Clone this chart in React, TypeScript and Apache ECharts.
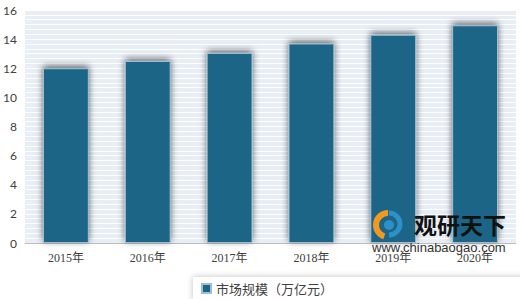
import React, { useEffect, useRef } from "react";
import * as echarts from "echarts";

const categories = ["2015年", "2016年", "2017年", "2018年", "2019年", "2020年"];
const marketSize = [12.0, 12.5, 13.05, 13.7, 14.3, 14.95];
const seriesName = "市场规模（万亿元）";
const yTicks = { min: 0, max: 16, interval: 2 };

export default function App() {
  const ref = useRef<HTMLDivElement>(null);
  useEffect(() => {
    if (!ref.current) return;
    const chart = echarts.init(ref.current, null, { renderer: "svg" });
    chart.setOption({
      animation: false,
      backgroundColor: "#ffffff",
      grid: {
        left: 25,
        right: 4,
        top: 10,
        bottom: 56,
        show: true,
        backgroundColor: "#e8eef5",
        borderWidth: 0,
      },
      legend: {
        data: [seriesName],
        left: 193,
        top: 277,
        padding: [5, 220, 6, 8],
        backgroundColor: "#ffffff",
        shadowColor: "rgba(0,0,0,0.25)",
        shadowBlur: 6,
        icon: "rect",
        itemWidth: 9,
        itemHeight: 9,
        itemGap: 6,
        textStyle: {
          color: "#404040",
          fontSize: 13,
          fontFamily: "'Noto Sans CJK SC', sans-serif",
        },
      },
      xAxis: {
        type: "category",
        data: categories,
        axisLine: { show: true, lineStyle: { color: "#bfbfbf", width: 1 } },
        axisTick: { show: false },
        axisLabel: {
          color: "#404040",
          fontSize: 12,
          margin: 9,
          fontFamily: "'Liberation Serif', 'Noto Sans CJK SC', serif",
        },
      },
      yAxis: {
        type: "value",
        min: yTicks.min,
        max: yTicks.max,
        interval: yTicks.interval,
        axisLine: { show: false },
        axisTick: { show: false },
        axisLabel: {
          color: "#404040",
          fontSize: 12,
          margin: 8,
          fontFamily: "Lato, 'Open Sans', sans-serif",
        },
        splitLine: { show: true, lineStyle: { color: "#ffffff", width: 1 } },
        minorTick: { show: false, splitNumber: 6 },
        minorSplitLine: { show: true, lineStyle: { color: "#ffffff", width: 1 } },
      },
      series: [
        {
          name: seriesName,
          type: "bar",
          data: marketSize,
          barWidth: "56%",
          itemStyle: {
            color: "#1b6586",
            borderColor: "#9fbfd0",
            borderWidth: 1,
            shadowColor: "rgba(0,0,0,0.6)",
            shadowBlur: 7,
            shadowOffsetX: 0,
            shadowOffsetY: -2,
          },
        },
      ],
      graphic: [
        {
          type: "group",
          left: 372,
          top: 210,
          z: 100,
          children: [
            {
              type: "arc",
              z: 100,
              shape: { cx: 16, cy: 15, r: 12, startAngle: Math.PI * 0.6, endAngle: Math.PI * 1.5 },
              style: { stroke: "#f39a1e", lineWidth: 6, fill: "none" },
            },
            {
              type: "arc",
              z: 100,
              shape: { cx: 17, cy: 14, r: 11, startAngle: Math.PI * 1.5, endAngle: Math.PI * 2.5 },
              style: { stroke: "#2f8fc9", lineWidth: 5, fill: "none" },
            },
            {
              type: "circle",
              z: 100,
              shape: { cx: 17, cy: 15, r: 5 },
              style: { fill: "#2f8fc9" },
            },
            {
              type: "text",
              z: 100,
              x: 42,
              y: 2,
              style: {
                text: "观研天下",
                fill: "#111111",
                font: "bold 23px 'Noto Sans CJK SC', sans-serif",
              },
            },
            {
              type: "text",
              z: 100,
              x: 0,
              y: 31,
              style: {
                text: "www.chinabaogao.com",
                fill: "#333333",
                font: "13px 'Liberation Sans', Arial, sans-serif",
              },
            },
          ],
        },
      ],
    });
    return () => chart.dispose();
  }, []);
  return <div ref={ref} style={{ width: 520, height: 299, position: "absolute", left: 0, top: 0 }} />;
}
